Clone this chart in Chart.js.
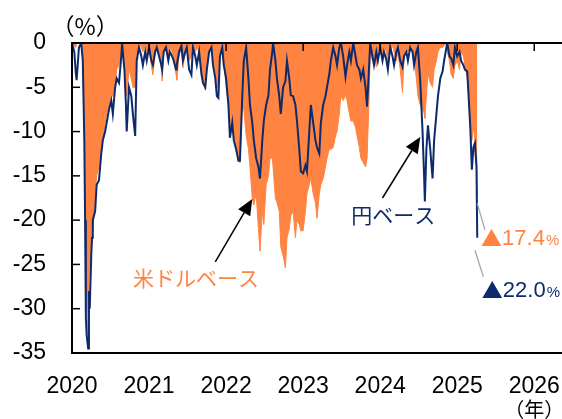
<!DOCTYPE html>
<html lang="ja">
<head>
<meta charset="utf-8">
<script src="https://cdn.jsdelivr.net/npm/chart.js@4.4.1/dist/chart.umd.min.js"></script>
<style>
  html, body { margin: 0; padding: 0; background: #fff; }
  #wrap { width: 562px; height: 419px; }
</style>
</head>
<body>
<div id="wrap"><canvas id="drawdownChart" width="562" height="419"></canvas></div>
<script>
// 日付（年の小数表記）
const dates = [
  // 2020
  2020.00, 2020.03, 2020.05, 2020.06, 2020.09, 2020.12, 2020.14, 2020.16, 2020.17, 2020.18,
  2020.19, 2020.21, 2020.22, 2020.23, 2020.25, 2020.26, 2020.27, 2020.30, 2020.32, 2020.35,
  2020.38, 2020.40, 2020.43, 2020.45, 2020.48, 2020.51, 2020.53, 2020.56, 2020.58, 2020.61,
  2020.64, 2020.65, 2020.68, 2020.70, 2020.71, 2020.74, 2020.77, 2020.79, 2020.82, 2020.84,
  2020.87, 2020.90, 2020.92, 2020.95, 2020.97,
  // 2021
  2021.00, 2021.03, 2021.05, 2021.08, 2021.10, 2021.13, 2021.16, 2021.17, 2021.19, 2021.22,
  2021.25, 2021.27, 2021.30, 2021.32, 2021.35, 2021.36, 2021.39, 2021.42, 2021.44, 2021.47,
  2021.49, 2021.52, 2021.55, 2021.57, 2021.60, 2021.62, 2021.65, 2021.68, 2021.70, 2021.73,
  2021.75, 2021.78, 2021.81, 2021.83, 2021.86, 2021.88, 2021.90, 2021.92, 2021.95, 2021.97,
  // 2022
  2022.00, 2022.03, 2022.05, 2022.08, 2022.10, 2022.13, 2022.16, 2022.18, 2022.21, 2022.23,
  2022.26, 2022.29, 2022.31, 2022.34, 2022.36, 2022.39, 2022.42, 2022.44, 2022.47, 2022.49,
  2022.52, 2022.55, 2022.57, 2022.60, 2022.61, 2022.64, 2022.66, 2022.69, 2022.71, 2022.74,
  2022.77, 2022.79, 2022.82, 2022.84, 2022.87, 2022.90, 2022.92, 2022.95, 2022.97,
  // 2023
  2023.00, 2023.03, 2023.05, 2023.08, 2023.10, 2023.13, 2023.16, 2023.18, 2023.21, 2023.23,
  2023.26, 2023.29, 2023.31, 2023.34, 2023.36, 2023.39, 2023.42, 2023.44, 2023.47, 2023.49,
  2023.52, 2023.55, 2023.57, 2023.60, 2023.62, 2023.65, 2023.68, 2023.70, 2023.73, 2023.75,
  2023.78, 2023.81, 2023.83, 2023.86, 2023.87, 2023.90, 2023.92, 2023.95, 2023.97,
  // 2024
  2024.00, 2024.03, 2024.05, 2024.08, 2024.10, 2024.13, 2024.16, 2024.18, 2024.21, 2024.23,
  2024.26, 2024.29, 2024.31, 2024.34, 2024.36, 2024.39, 2024.42, 2024.44, 2024.47, 2024.49,
  2024.52, 2024.55, 2024.57, 2024.58, 2024.60, 2024.62, 2024.65, 2024.68, 2024.70, 2024.73,
  2024.75, 2024.78, 2024.81, 2024.83, 2024.86, 2024.87, 2024.90, 2024.92, 2024.95, 2024.97,
  // 2025
  2025.00, 2025.03, 2025.05, 2025.08, 2025.10, 2025.13, 2025.16, 2025.17, 2025.19, 2025.21,
  2025.23, 2025.25, 2025.26
];

// 米ドルベースの下落率（%）
const usdBase = [
  0, -0.3, -0.5, 0, 0, 0, -2, -10, -17, -26,
  -28, -34, -27, -24, -25, -20, -21, -17, -15, -14,
  -12, -11, -9, -8, -7, -6, -6, -5, -3, -2.5,
  -1, 0, -2, -5, -6, -3, -4, -5, -5, -1.5,
  0, -0.5, -1, -0.3, -1.5,

  -0.5, -2.5, -3.6, -1, -0.3, -1, -3, -4.3, -1, -0.5,
  -1.5, -0.5, -1, -2, -3.5, -4.2, -1.5, -0.5, -2.8, -1,
  -0.3, -2, -1.5, -0.3, -1, -0.5, -1, -3, -4, -5.3,
  -3, -1, -0.5, -2, -3.5, -5, -5, -1, -0.3, -2,

  -5, -7, -10, -8, -11, -12, -13, -13.5, -7, -7.5,
  -10.4, -12, -14, -17.5, -18.3, -17, -21, -23.5, -19, -20.5,
  -16, -15, -13, -13, -14, -17.5, -18, -19, -23, -24,
  -25.4, -22, -21, -19.5, -19, -22, -20, -20.5, -21.2,

  -21.2, -19, -17, -16, -15.3, -17, -18, -19.8, -17, -16,
  -15.3, -14, -13, -12, -12, -11.8, -10.5, -10, -8, -6,
  -6.5, -5.9, -6.5, -8, -8.8, -8.8, -9.5, -10.5, -11.8, -13,
  -13.5, -14, -13, -5, -1, -2, -1, -2.7, -1,

  -0.5, -1.5, -0.5, -1, -2.5, -1, -0.3, -1, -2, -1,
  -3, -5.6, -1.5, -0.5, -1, -0.3, -0.5, -2, -4, -6,
  -7, -7.5, -7.9, -8.5, -6, -3.5, -4.5, -5, -3, -2,
  -1, -0.5, -0.5, -0.3, 0, -1, -2, -3.5, -4, -2.5,

  -2, -3, -1, -1.5, -2.5, -4, -7, -9, -11, -9.5,
  -11, -12, -17.4
];

// 円ベースの下落率（%）
const yenBase = [
  0, -1, -3.5, -4.2, -0.5, 0, -2, -11, -20, -31,
  -33, -34.5, -28, -30, -24, -22, -20, -19, -16, -15.5,
  -12.5, -11, -10, -9, -7.5, -6.5, -8, -5, -4, -4.5,
  -1.5, 0, -3, -7, -10, -5, -6, -8, -10.5, -2,
  -0.5, -1.5, -2.5, -1, -2,

  -0.5, -2, -2.5, -1, -0.5, -1.5, -2.5, -3, -1, -0.5,
  -2, -1, -1.5, -2, -3, -2.5, -1, -0.3, -2, -1,
  -0.5, -3, -3.6, -0.5, -1.5, -2.5, -1, -3.5, -4.5, -5,
  -3, -1, -0.5, -2.5, -4, -6, -6.2, -1.5, -0.5, -2.5,

  -4, -7, -10.7, -9, -11, -12, -13.3, -13.3, -6, -2,
  -0.5, -4, -7, -9, -11, -13, -14, -15.3, -11, -8.8,
  -7, -5.9, -3, -1, 0, -2, -4, -6, -8, -5,
  -4.3, -2, -4, -5.9, -6, -7, -8.8, -12, -14.5,

  -14.7, -13.8, -14.5, -10, -7, -9, -11, -11.8, -12.5, -9,
  -7, -6, -5, -3.5, -2, -0.5, -1.5, -2.5, -0.5, 0,
  -1.5, -3.8, -2.5, -1, -2, 0, -1.5, -2.5, -3, -4,
  -3, -5, -7.2, -2, 0, -1.5, -2.5, -1, -2,

  -0.5, -2, -1, -1.9, -3, -0.5, -1.5, -2.5, -1, -0.5,
  -2, -2.7, -1.5, -1, -2, -0.5, -1, -2.5, -1, -0.5,
  -4.3, -10, -15, -17.9, -12, -9.3, -12, -15.3, -11, -8,
  -6, -4, -3.2, -2, -0.5, 0, -1.5, -1.7, -2.5, -0.5,

  -1.5, -1, -2, -2.5, -3, -3.2, -8, -9.6, -14.3, -11.8,
  -11.3, -14, -22.0
];

const yearTicks = [2020, 2021, 2022, 2023, 2024, 2025, 2026];
const latestUsd = "17.4";
const latestYen = "22.0";

const ORANGE = "#FF8442";
const NAVY = "#0D2A6C";
const TICK_FONT = { family: "'Liberation Sans', Arial, sans-serif", size: 23 };
const JP_FONT = "'Noto Sans CJK JP', 'Noto Sans', sans-serif";

const canvas = document.getElementById("drawdownChart");
const ctx = canvas.getContext("2d");

function arrow(c, x1, y1, x2, y2) {
  const ang = Math.atan2(y2 - y1, x2 - x1);
  const len = 16, half = 7;
  const bx = x2 - len * Math.cos(ang), by = y2 - len * Math.sin(ang);
  c.beginPath();
  c.moveTo(x1, y1);
  c.lineTo(bx, by);
  c.stroke();
  c.beginPath();
  c.moveTo(x2, y2);
  c.lineTo(bx + half * Math.sin(ang), by - half * Math.cos(ang));
  c.lineTo(bx - half * Math.sin(ang), by + half * Math.cos(ang));
  c.closePath();
  c.fill();
}

function valueLabel(c, x, y, num, color) {
  c.fillStyle = color;
  c.textBaseline = "middle";
  c.textAlign = "left";
  c.font = "21px " + JP_FONT;
  c.fillText("▲", x, y);
  let cx = x + c.measureText("▲").width;
  c.font = "22px 'Liberation Sans', Arial, sans-serif";
  c.fillText(num, cx, y + 1);
  cx += c.measureText(num).width + 1;
  c.font = "15px 'Liberation Sans', Arial, sans-serif";
  c.fillText("%", cx, y + 3);
}

// 軸の目盛り・ゼロ線・注記
const decorations = {
  id: "decorations",
  afterDatasetsDraw(chart) {
    const c = chart.ctx;
    const { chartArea: a, scales: { x, y } } = chart;
    c.save();
    c.strokeStyle = "#000";
    c.lineWidth = 2;
    const y0 = y.getPixelForValue(0);
    c.beginPath();
    c.moveTo(a.left, y0);
    c.lineTo(a.right, y0);
    c.stroke();
    // 年の目盛り（ゼロ線から下向き）
    c.lineWidth = 1.5;
    yearTicks.forEach((yr) => {
      const px = x.getPixelForValue(yr);
      c.beginPath();
      c.moveTo(px, y0);
      c.lineTo(px, y0 + 8);
      c.stroke();
    });
    // 縦軸の目盛り（内向き）
    y.ticks.forEach((t) => {
      const py = y.getPixelForValue(t.value);
      c.beginPath();
      c.moveTo(a.left, py);
      c.lineTo(a.left + 8, py);
      c.stroke();
    });
    c.restore();
  },
  afterDraw(chart) {
    const c = chart.ctx;
    const { scales: { x, y } } = chart;
    const X = (v) => x.getPixelForValue(v);
    const Y = (v) => y.getPixelForValue(v);
    c.save();

    // 単位
    c.fillStyle = "#000";
    c.textBaseline = "middle";
    c.textAlign = "center";
    c.font = "23px " + JP_FONT;
    c.fillText("（%）", X(2020.17), Y(0) - 17);
    c.font = "20px " + JP_FONT;
    c.fillText("（年）", X(2026), Y(-35) + 56);

    // 矢印
    c.strokeStyle = "#000";
    c.fillStyle = "#000";
    c.lineWidth = 1.5;
    arrow(c, X(2021.86), Y(-24.7), X(2022.34), Y(-17.6));
    arrow(c, X(2024.03), Y(-17.5), X(2024.52), Y(-10.6));

    // 系列名
    c.font = "21px " + JP_FONT;
    c.textAlign = "center";
    c.fillStyle = ORANGE;
    c.fillText("米ドルベース", X(2021.61), Y(-26.5));
    c.fillStyle = NAVY;
    c.fillText("円ベース", X(2024.17), Y(-19.4));

    // 直近値への引き出し線
    c.strokeStyle = "#A6A6A6";
    c.lineWidth = 1.3;
    c.beginPath();
    c.moveTo(X(2025.26), Y(-18.1));
    c.lineTo(X(2025.36), Y(-21.1));
    c.moveTo(X(2025.23), Y(-23.4));
    c.lineTo(X(2025.34), Y(-26.4));
    c.stroke();

    valueLabel(c, X(2025.31), Y(-22.0), latestUsd, ORANGE);
    valueLabel(c, X(2025.32), Y(-27.9), latestYen, NAVY);
    c.restore();
  },
};

const yenPoints = dates.map((d, i) => ({ x: d, y: yenBase[i] }));
const usdPoints = dates.map((d, i) => ({ x: d, y: usdBase[i] }));

new Chart(ctx, {
  type: "line",
  data: {
    datasets: [
      {
        label: "円ベース",
        data: yenPoints,
        borderColor: NAVY,
        borderWidth: 2,
        pointRadius: 0,
        fill: false,
        tension: 0,
        order: 0,
      },
      {
        label: "米ドルベース",
        data: usdPoints,
        borderColor: ORANGE,
        backgroundColor: ORANGE,
        borderWidth: 1,
        pointRadius: 0,
        fill: "origin",
        tension: 0,
        order: 1,
      },
    ],
  },
  options: {
    responsive: false,
    animation: false,
    events: [],
    layout: { padding: { top: 43, right: 0, left: 0, bottom: 0 } },
    plugins: {
      legend: { display: false },
      tooltip: { enabled: false },
    },
    scales: {
      x: {
        type: "linear",
        min: 2020,
        max: 2026.36,
        afterFit: (s) => {
          s.height = 66;
          s.paddingLeft = 0;
          s.paddingRight = 0;
        },
        grid: { drawOnChartArea: false, drawTicks: false },
        border: { color: "#000", width: 2 },
        ticks: {
          stepSize: 1,
          includeBounds: false,
          autoSkip: false,
          maxRotation: 0,
          padding: 20,
          color: "#000",
          font: TICK_FONT,
          callback: (v) => (Number.isInteger(v) ? String(v) : ""),
        },
      },
      y: {
        min: -35,
        max: 0,
        afterFit: (s) => {
          s.width = 72;
          s.paddingTop = 0;
          s.paddingBottom = 0;
        },
        grid: { drawOnChartArea: false, drawTicks: false },
        border: { color: "#000", width: 2 },
        ticks: {
          stepSize: 5,
          padding: 26,
          color: "#000",
          font: TICK_FONT,
          callback: (v) => String(v),
        },
      },
    },
  },
  plugins: [decorations],
});
</script>
</body>
</html>
